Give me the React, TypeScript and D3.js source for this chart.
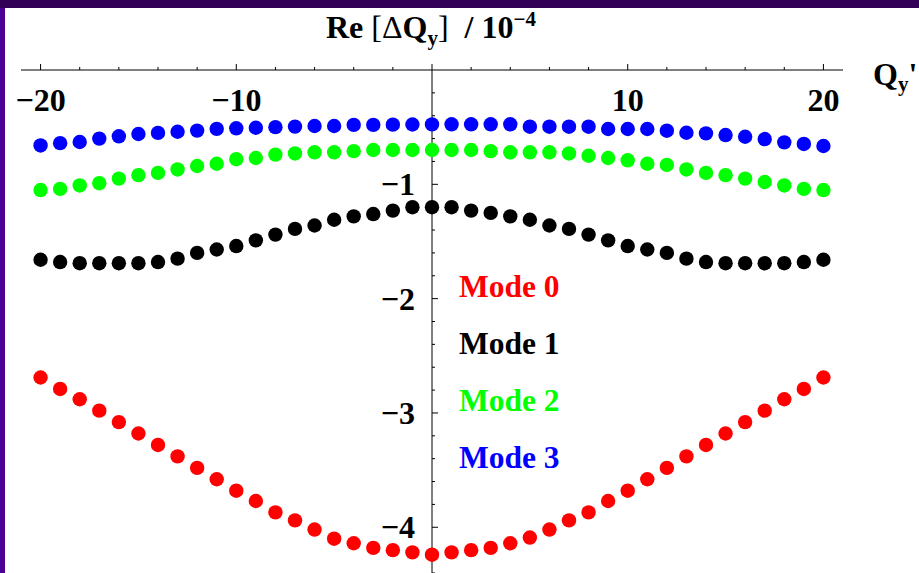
import * as d3 from "d3";

// chromaticity Q'y
const chroma = [
  -20, -19, -18, -17, -16, -15, -14, -13, -12, -11, -10, -9, -8, -7, -6, -5, -4, -3, -2, -1, 0,
  1, 2, 3, 4, 5, 6, 7, 8, 9, 10, 11, 12, 13, 14, 15, 16, 17, 18, 19, 20,
];

// Re[dQy] / 1e-4
const mode0 = [
  -2.69, -2.79, -2.88, -2.98, -3.08, -3.18, -3.28, -3.38, -3.48, -3.58, -3.68, -3.77, -3.87, -3.94, -4.02, -4.1, -4.14, -4.18, -4.2, -4.22, -4.24,
  -4.22, -4.2, -4.18, -4.14, -4.09, -4.02, -3.94, -3.87, -3.77, -3.68, -3.58, -3.48, -3.38, -3.28, -3.18, -3.08, -2.98, -2.88, -2.79, -2.69,
];
const mode1 = [
  -1.66, -1.68, -1.69, -1.69, -1.69, -1.69, -1.68, -1.65, -1.6, -1.57, -1.54, -1.49, -1.44, -1.39, -1.36, -1.31, -1.28, -1.26, -1.23, -1.2, -1.2,
  -1.2, -1.23, -1.25, -1.28, -1.31, -1.36, -1.39, -1.44, -1.49, -1.54, -1.57, -1.6, -1.65, -1.68, -1.69, -1.69, -1.69, -1.69, -1.68, -1.66,
];
const mode2 = [
  -1.05, -1.04, -1.01, -0.99, -0.95, -0.92, -0.9, -0.87, -0.84, -0.82, -0.78, -0.77, -0.74, -0.73, -0.72, -0.72, -0.71, -0.7, -0.7, -0.7, -0.7,
  -0.7, -0.7, -0.71, -0.72, -0.72, -0.72, -0.73, -0.75, -0.77, -0.79, -0.82, -0.83, -0.87, -0.9, -0.92, -0.95, -0.98, -1.01, -1.04, -1.05,
];
const mode3 = [
  -0.66, -0.64, -0.63, -0.6, -0.58, -0.56, -0.55, -0.54, -0.53, -0.515, -0.51, -0.505, -0.5, -0.495, -0.49, -0.49, -0.48, -0.48, -0.478, -0.477, -0.476,
  -0.475, -0.475, -0.475, -0.475, -0.496, -0.496, -0.496, -0.496, -0.516, -0.516, -0.516, -0.531, -0.549, -0.554, -0.569, -0.584, -0.604, -0.633, -0.647, -0.665,
];

const modeNames = ["Mode 0", "Mode 1", "Mode 2", "Mode 3"];
const modeColors = ["#ff0000", "#000000", "#00ff00", "#0000ff"];
const series = [mode0, mode1, mode2, mode3];

const xLabels = [-20, -10, 10, 20];
const yLabels = [-1, -2, -3, -4];

const W = 919;
const H = 573;
const font = "'Liberation Serif', 'Times New Roman', serif";
const minus = (v: number) => (v < 0 ? "\u2212" + Math.abs(v) : String(v));

export default function App() {
  const x = d3.scaleLinear().domain([-21, 21]).range([21, 843]);
  const y = d3.scaleLinear().domain([0, -4.4]).range([70, 573]);

  const xTicks = x.ticks(21);
  const yTicks = y.ticks(22).filter((v) => v !== 0);
  const isMajor = (v: number) => Math.abs(v - Math.round(v / 10) * 10) < 1e-6;
  const isInt = (v: number) => Math.abs(v - Math.round(v)) < 1e-6;

  // draw the dots in order so mode 3 ends up on top, like the original
  const order = [1, 2, 3, 0];

  return (
    <div style={{ position: "absolute", left: 0, top: 0 }}>
      <svg width={W} height={H} style={{ display: "block", background: "#fff" }}>
        <rect x={0} y={0} width={W} height={H} fill="#ffffff" />

        {/* axes */}
        <line x1={x(-21)} x2={x(21)} y1={y(0)} y2={y(0)} stroke="#000" strokeWidth={1} />
        <line x1={x(0)} x2={x(0)} y1={y(0)} y2={H} stroke="#000" strokeWidth={1} />
        {xTicks.map((t) => (
          <line
            key={"xt" + t}
            x1={x(t)}
            x2={x(t)}
            y1={y(0)}
            y2={y(0) - (isMajor(t) ? 6 : 3)}
            stroke="#000"
          />
        ))}
        {yTicks.map((t) => (
          <line
            key={"yt" + t}
            x1={x(0)}
            x2={x(0) + (isInt(t) ? 6 : 3)}
            y1={y(t)}
            y2={y(t)}
            stroke="#000"
          />
        ))}

        <g fontFamily={font} fontWeight="bold" fontSize={32} fill="#000">
          {xLabels.map((t) => (
            <text key={"xl" + t} x={x(t)} y={111} textAnchor="middle">
              {minus(t)}
            </text>
          ))}
          {yLabels.map((t) => (
            <text key={"yl" + t} x={415} y={y(t) + 11} textAnchor="end">
              {minus(t)}
            </text>
          ))}

          {/* title */}
          <text x={326} y={38} style={{ whiteSpace: "pre" }}>
            <tspan>Re</tspan>
            <tspan fontWeight="normal"> [Δ</tspan>
            <tspan>Q</tspan>
            <tspan fontSize={21} dy={7}>y</tspan>
            <tspan fontWeight="normal" dy={-7}>]</tspan>
            <tspan>{"  / 10"}</tspan>
            <tspan fontSize={21} dy={-12}>{"\u22124"}</tspan>
          </text>

          {/* axis label */}
          <text x={873} y={85}>
            <tspan>Q</tspan>
            <tspan fontSize={21} dy={6}>y</tspan>
            <tspan dy={-6}>'</tspan>
          </text>
        </g>

        {/* dots */}
        {order.map((s) => (
          <g key={"s" + s} fill={modeColors[s]}>
            {series[s].map((v, i) => (
              <circle key={i} cx={x(chroma[i])} cy={y(v)} r={7.2} />
            ))}
          </g>
        ))}

        {/* legend */}
        <g fontFamily={font} fontWeight="bold" fontSize={31.5}>
          {modeNames.map((name, i) => (
            <text key={name} x={459} y={297 + i * 57} fill={modeColors[i]}>
              {name}
            </text>
          ))}
        </g>

        {/* frame */}
        <rect x={0} y={0} width={W} height={8} fill="#330058" />
        <rect x={0} y={8} width={5} height={H - 8} fill="#4b0096" />
      </svg>
    </div>
  );
}
